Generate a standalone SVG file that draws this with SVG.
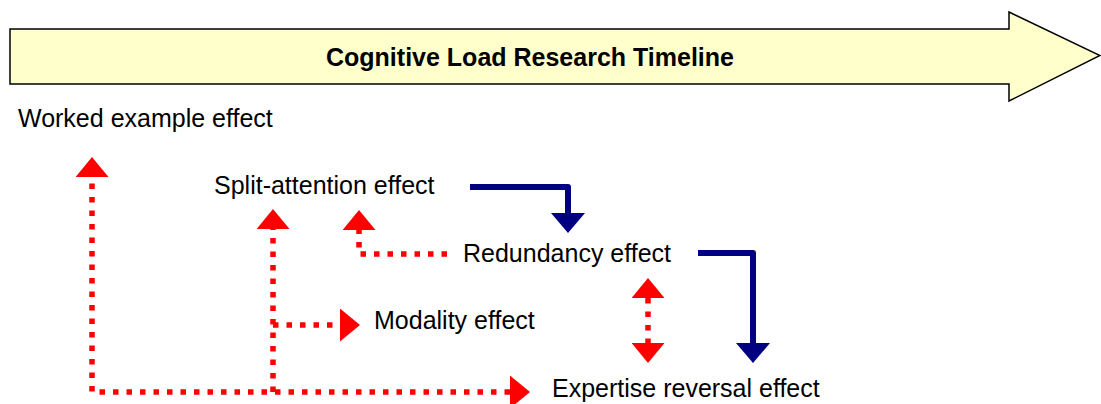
<svg xmlns="http://www.w3.org/2000/svg" width="1101" height="404" viewBox="0 0 1101 404">
  <style>
    .label { font-family: "Liberation Sans", Arial, sans-serif; font-size: 25px; fill: #000; }
    .title { font-family: "Liberation Sans", Arial, sans-serif; font-size: 25px; font-weight: bold; fill: #000; }
    .dashed { fill: none; stroke: #FF0000; stroke-width: 5.5; stroke-dasharray: 5.5 8; }
    .solid { fill: none; stroke: #000080; stroke-width: 6; stroke-linejoin: round; }
  </style>
  <defs>
    <marker id="headRed" markerUnits="userSpaceOnUse" viewBox="0 0 20 33" markerWidth="20" markerHeight="33" refX="0" refY="16.5" orient="auto-start-reverse">
      <path d="M0,0 L20,16.5 L0,33 Z" fill="#FF0000"/>
    </marker>
    <marker id="headBlue" markerUnits="userSpaceOnUse" viewBox="0 0 20 34" markerWidth="20" markerHeight="34" refX="0" refY="17" orient="auto">
      <path d="M0,0 L20,17 L0,34 Z" fill="#000080"/>
    </marker>
  </defs>

  <!-- timeline banner arrow -->
  <g id="timeline">
    <path d="M10,29 H1009 V12 L1100,55.5 L1009,101 V84 H10 Z" fill="#FFFFCC" stroke="#000" stroke-width="1.5" stroke-linejoin="miter"/>
    <text class="title" x="530" y="66" text-anchor="middle">Cognitive Load Research Timeline</text>
  </g>

  <g id="connectors">
    <!-- worked example / expertise reversal link -->
    <path class="dashed" d="M510,392 H92 V177" marker-start="url(#headRed)" marker-end="url(#headRed)"/>
    <!-- up to split-attention -->
    <path class="dashed" d="M273,392 V229" marker-end="url(#headRed)"/>
    <!-- branch to modality -->
    <path class="dashed" d="M273,325 H340" marker-end="url(#headRed)"/>
    <!-- redundancy back to split-attention -->
    <path class="dashed" d="M447,254 H359 V230" marker-end="url(#headRed)"/>
    <!-- redundancy / expertise reversal two-way link -->
    <path class="dashed" d="M648,298 V343" marker-start="url(#headRed)" marker-end="url(#headRed)"/>
    <!-- progression arrows -->
    <path class="solid" d="M470,187 H568 V213" marker-end="url(#headBlue)"/>
    <path class="solid" d="M698,253 H753 V343" marker-end="url(#headBlue)"/>
  </g>

  <g id="worked-example"><text class="label" x="18" y="127">Worked example effect</text></g>
  <g id="split-attention"><text class="label" x="214" y="194">Split-attention effect</text></g>
  <g id="redundancy"><text class="label" x="463" y="262">Redundancy effect</text></g>
  <g id="modality"><text class="label" x="374" y="329">Modality effect</text></g>
  <g id="expertise-reversal"><text class="label" x="552" y="397">Expertise reversal effect</text></g>
</svg>
